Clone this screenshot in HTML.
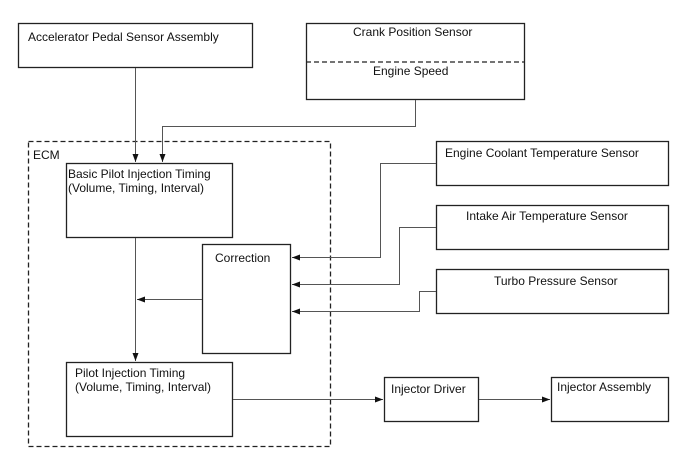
<!DOCTYPE html>
<html><head><meta charset="utf-8"><style>
html,body{margin:0;padding:0;background:#fff;}
svg{display:block;}
text{font-family:"Liberation Sans",Arial,sans-serif;font-size:12px;fill:#111;}
</style></head><body>
<svg width="688" height="463" viewBox="0 0 688 463" xmlns="http://www.w3.org/2000/svg">
<defs><marker id="a" markerWidth="8" markerHeight="6" refX="8" refY="3" orient="auto" markerUnits="userSpaceOnUse"><path d="M0,0 L8,3 L0,6 z" fill="#111"/></marker></defs>
<g fill="none" stroke="#222" stroke-width="1.3">
<rect x="18.5" y="23.5" width="234" height="44"/>
<rect x="306.5" y="23.5" width="218" height="76"/>
<line x1="306" y1="62" x2="524" y2="62" stroke-dasharray="5,3"/>
<rect x="28.5" y="141.5" width="302" height="305" stroke-dasharray="5,3"/>
<rect x="66.5" y="163.5" width="166" height="74"/>
<rect x="202.5" y="244.5" width="88" height="109"/>
<rect x="66.5" y="362.5" width="166" height="74"/>
<rect x="436.5" y="141.5" width="232" height="44"/>
<rect x="436.5" y="205.5" width="232" height="44"/>
<rect x="436.5" y="269.5" width="232" height="44"/>
<rect x="384.5" y="377.5" width="94" height="44"/>
<rect x="551.5" y="377.5" width="117" height="44"/>
</g>
<g fill="none" stroke="#555" stroke-width="1">
<path d="M135.5,68 V162" marker-end="url(#a)"/>
<path d="M415.5,100 V126.5 H162.5 V162" marker-end="url(#a)"/>
<path d="M135.5,238 V361" marker-end="url(#a)"/>
<path d="M202,299.5 H137" marker-end="url(#a)"/>
<path d="M436,163.5 H380.5 V257.5 H292" marker-end="url(#a)"/>
<path d="M436,227.5 H399.5 V284.5 H292" marker-end="url(#a)"/>
<path d="M436,291.5 H419.5 V311.5 H292" marker-end="url(#a)"/>
<path d="M233,399.5 H383" marker-end="url(#a)"/>
<path d="M479,399.5 H550" marker-end="url(#a)"/>
</g>
<text x="28" y="41">Accelerator Pedal Sensor Assembly</text>
<text x="353" y="36">Crank Position Sensor</text>
<text x="373" y="75">Engine Speed</text>
<text x="33" y="159">ECM</text>
<text x="68" y="178">Basic Pilot Injection Timing</text>
<text x="68" y="192">(Volume, Timing, Interval)</text>
<text x="215" y="262">Correction</text>
<text x="75" y="377">Pilot Injection Timing</text>
<text x="75" y="391">(Volume, Timing, Interval)</text>
<text x="445" y="157">Engine Coolant Temperature Sensor</text>
<text x="466" y="220">Intake Air Temperature Sensor</text>
<text x="494" y="285">Turbo Pressure Sensor</text>
<text x="391" y="393">Injector Driver</text>
<text x="557" y="391">Injector Assembly</text>
</svg>
</body></html>
